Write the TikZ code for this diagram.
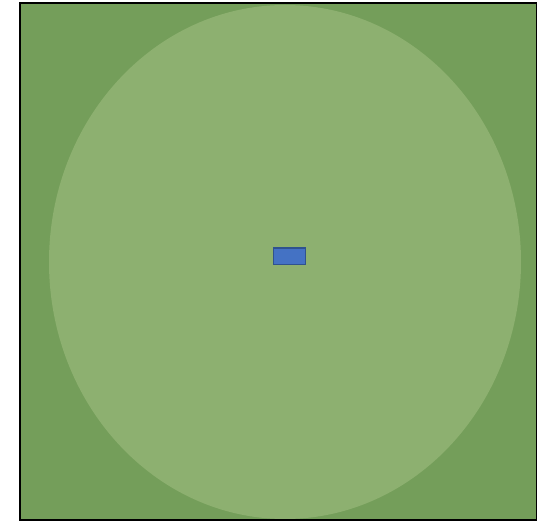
\documentclass[tikz,border=0pt]{standalone}
\usetikzlibrary{shapes.geometric}
\definecolor{fielddark}{RGB}{116,158,90}
\definecolor{fieldlight}{RGB}{141,176,112}
\definecolor{boxblue}{RGB}{68,114,196}
\definecolor{boxedge}{RGB}{47,82,143}
\tikzset{
  fieldbox/.style={draw=black, line width=1.6pt, fill=fielddark},
  oval/.style={ellipse, fill=fieldlight, draw=none, inner sep=0pt},
  centrebox/.style={rectangle, draw=boxedge, line width=1.5pt, fill=boxblue, inner sep=0pt}
}
\begin{document}
\begin{tikzpicture}[x=1pt,y=-1pt]
  \useasboundingbox (0,0) rectangle (542,521);
  \fill[white] (0,0) rectangle (542,521);
  \path[fieldbox] (20,3) rectangle (536.5,520);
  \node[oval, minimum width=472pt, minimum height=514pt] (field) at (285,262) {};
  \node[centrebox, minimum width=32pt, minimum height=16.5pt] (box) at (289.5,256.5) {};
\end{tikzpicture}
\end{document}
